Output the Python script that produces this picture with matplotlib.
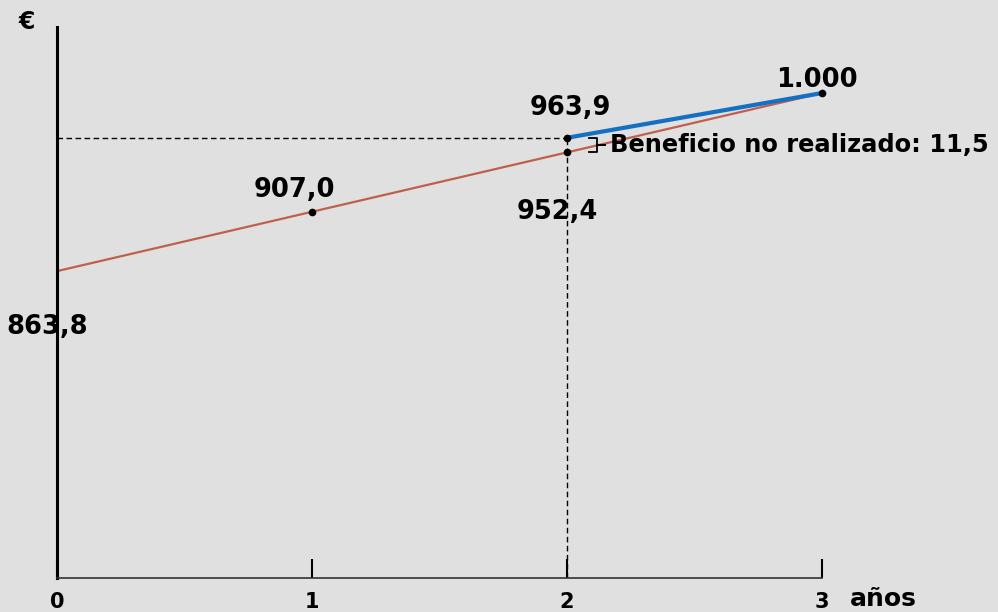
import numpy as np
import matplotlib.pyplot as plt

# present value of a 1.000 bond, year by year (discounted at 5%)
years = [0, 1, 2, 3]
present_value = [863.8, 907.0, 952.4, 1000.0]
pv_labels = ["863,8", "907,0", "952,4", "1.000"]

# selling price reached in year 2 and maturity
sell_years = [2, 3]
sell_value = [963.9, 1000.0]
sell_label = "963,9"

gain_text = "Beneficio no realizado: 11,5"
tick_labels = ["0", "1", "2", "3"]

bg = "#e0e0e0"
red = "#c0604c"
blue = "#1570c4"
bold = dict(family="DejaVu Sans", weight="bold")

fig = plt.figure(figsize=(9.98, 6.12), dpi=100, facecolor=bg)
ax = fig.add_axes([57 / 998, 34 / 612, 1 - 57 / 998, (578 - 27) / 612])
ax.set_facecolor(bg)
ax.set_yscale("log")
ax.set_xlim(0, 3.69)
ax.set_ylim(671.2, 1055.8)

# dashed guides to the selling point
ax.plot([0, sell_years[0]], [sell_value[0], sell_value[0]], color="k", lw=1, ls=(0, (4, 2.5)))
ax.plot([sell_years[0], sell_years[0]], [ax.get_ylim()[0], sell_value[0]], color="k", lw=1, ls=(0, (4, 2.5)))

ax.plot(years, present_value, color=red, lw=1.6)
ax.plot(sell_years, sell_value, color=blue, lw=3, solid_capstyle="butt")
ax.plot(years[1:], present_value[1:], "o", color="k", ms=4.5)
ax.plot(sell_years[0], sell_value[0], "o", color="k", ms=4.5)

# value labels (baseline offsets in pixels)
offsets = [(-10, -63), (-18, 15), (-10, -67), (-5, 6)]
for x, y, lab, (dx, dy) in zip(years, present_value, pv_labels, offsets):
    ax.annotate(lab, (x, y), xytext=(dx, dy), textcoords="offset pixels",
                ha="center", va="baseline", fontsize=18.5, **bold)
ax.annotate(sell_label, (sell_years[0], sell_value[0]), xytext=(3, 23),
            textcoords="offset pixels", ha="center", va="baseline", fontsize=18.5, **bold)

# brace between the two values at year 2
top, bot = sell_value[0], present_value[2]
mid = np.sqrt(top * bot)
bx, h = 2.118, 0.03
ax.plot([bx - h, bx, bx, bx + h, bx, bx, bx - h], [top, top, mid, mid, mid, bot, bot],
        color="k", lw=1.3)
ax.text(bx + 0.05, mid, gain_text, ha="left", va="center", fontsize=17.4, **bold)

# axes styling
for s in ["top", "right"]:
    ax.spines[s].set_visible(False)
ax.spines["left"].set_linewidth(2.2)
ax.spines["left"].set_color("k")
ax.spines["bottom"].set_linewidth(1.2)
ax.spines["bottom"].set_color("#333333")
ax.spines["bottom"].set_bounds(0, 3)
ax.tick_params(axis="y", which="both", left=False, labelleft=False)
ax.set_xticks(years)
ax.set_xticklabels(tick_labels, fontsize=15, **bold)
ax.tick_params(axis="x", direction="in", length=14, width=1.5, pad=10, colors="k")

fig.text(850 / 998, 6 / 612, "años", ha="left", va="baseline", fontsize=18, **bold)
fig.text(27 / 998, 1 - 22 / 612, "€", ha="center", va="center", fontsize=17, **bold)

fig.savefig("out.png", dpi=100, facecolor=bg)
